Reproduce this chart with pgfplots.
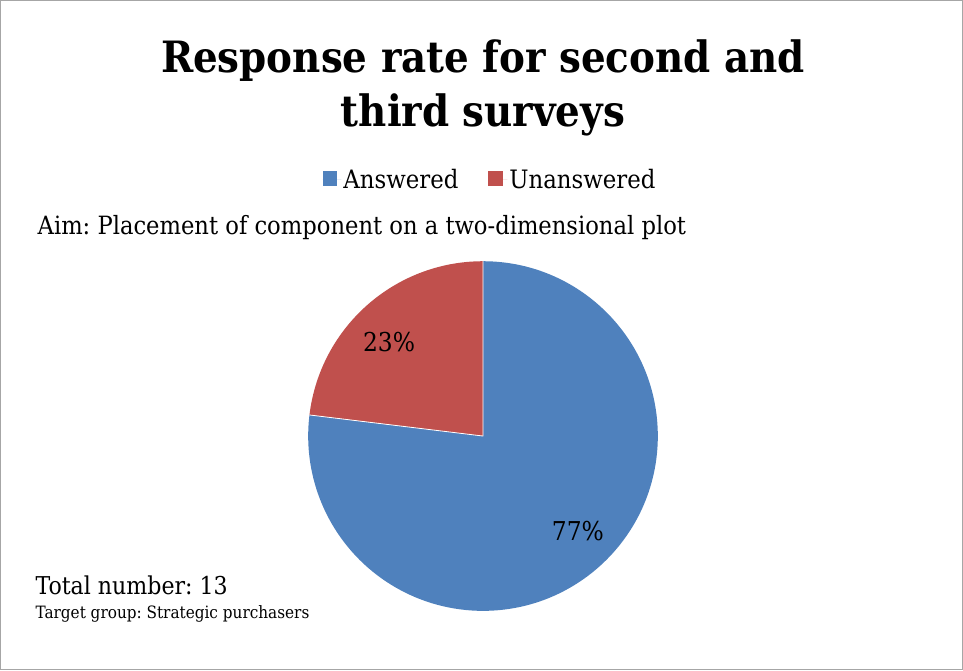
\documentclass[border=0pt]{standalone}
\usepackage{pgfplots}
\pgfplotsset{compat=1.18}
\usepackage{pgfplotstable}
\usepackage{fontspec}
\setmainfont{DejaVu Serif Condensed}
\frenchspacing
\definecolor{ansblue}{HTML}{4F81BD}
\definecolor{unred}{HTML}{C0504D}
\pgfplotstableread{
label value
Answered 10
Unanswered 3
}\piedata
\begin{document}
\begin{tikzpicture}
\pgfplotstablegetelem{0}{value}\of\piedata \let\va\pgfplotsretval
\pgfplotstablegetelem{1}{value}\of\piedata \let\vb\pgfplotsretval
\pgfmathsetmacro\total{\va+\vb}
\pgfmathsetmacro\endA{90-360*\va/\total}
\begin{axis}[
  width=963pt, height=670pt, scale only axis,
  xmin=0, xmax=963, ymin=0, ymax=670,
  ticks=none, axis line style={gray!70, line width=1pt},
  clip=false,
  legend style={at={(0.5088,0.7328)}, anchor=center, draw=none, fill=none,
    legend columns=2, font=\fontsize{25.4}{29}\selectfont,
    /tikz/every even column/.append style={column sep=28pt}},
  legend image code/.code={\fill[#1] (0pt,-7pt) rectangle (15pt,8pt); \path (0pt,0pt) -- (19pt,0pt);},
]
\addlegendimage{fill=ansblue, draw=none}
\addlegendentry{Answered}
\addlegendimage{fill=unred, draw=none}
\addlegendentry{Unanswered}
\fill[ansblue] (axis cs:483,234) -- (axis cs:483,409) arc[start angle=90, end angle=\endA, radius=175pt] -- cycle;
\fill[unred] (axis cs:483,234) -- (axis cs:483,409) arc[start angle=90, end angle=\endA+360, radius=175pt] -- cycle;
\draw[white, line width=0.8pt] (axis cs:483,409) -- (axis cs:483,234) -- ++(\endA:175pt);
\node[font=\fontsize{26}{30}\selectfont] at (axis cs:389,328) {23\%};
\node[font=\fontsize{26}{30}\selectfont] at (axis cs:578,139) {77\%};
\node[anchor=base, font=\bfseries\fontsize{43.2}{52}\selectfont] at (axis cs:483,598) {Response rate for second and};
\node[anchor=base, font=\bfseries\fontsize{43.2}{52}\selectfont] at (axis cs:483,544) {third surveys};
\node[anchor=base west, inner sep=0pt, font=\fontsize{25.2}{29}\selectfont] at (axis cs:37,436) {Aim: Placement of component on a two-dimensional plot};
\node[anchor=base west, inner sep=0pt, font=\fontsize{24.6}{28}\selectfont] at (axis cs:35,75) {Total number: 13};
\node[anchor=base west, inner sep=0pt, font=\fontsize{17}{20}\selectfont] at (axis cs:35,51) {Target group: Strategic purchasers};
\end{axis}
\end{tikzpicture}
\end{document}
